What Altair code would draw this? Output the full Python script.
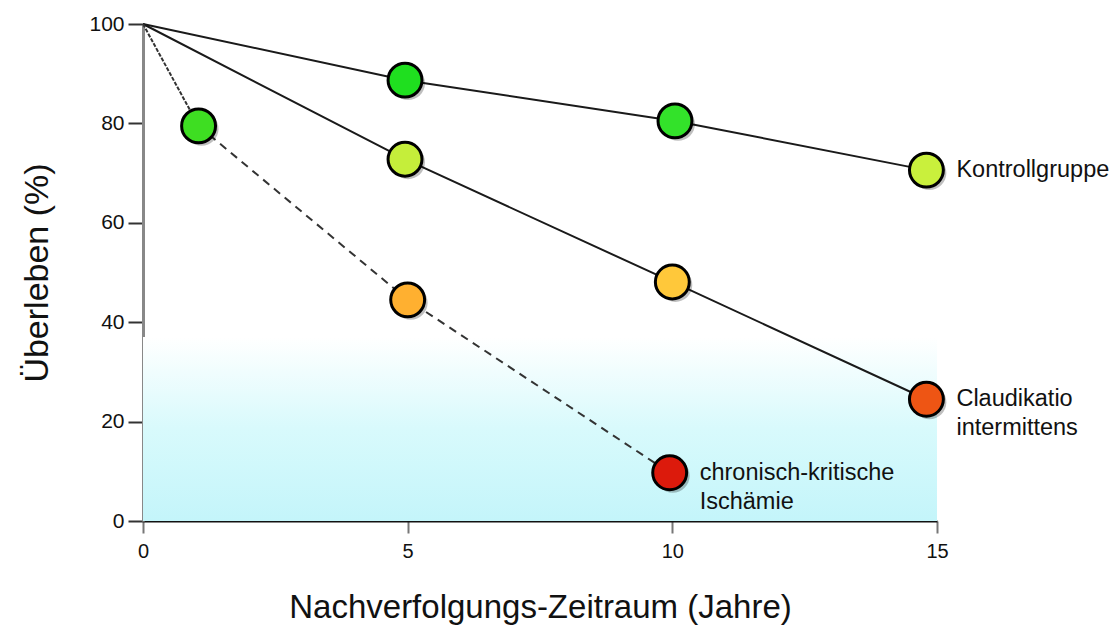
import altair as alt
import pandas as pd

# Data
kontroll_x = [0, 4.95, 10.05, 14.8]
kontroll_y = [100, 88.7, 80.5, 70.6]
kontroll_c = [None, "#1fdf1f", "#33e22a", "#c9f03c"]

claud_x = [0, 4.95, 10.0, 14.8]
claud_y = [100, 72.8, 48.1, 24.5]
claud_c = [None, "#c5ee3a", "#ffc83a", "#ee5514"]

chron_x = [0, 1.05, 5.0, 9.95]
chron_y = [100, 79.5, 44.5, 9.7]
chron_c = [None, "#3ede22", "#ffb030", "#dc1a0c"]

labels = ["Kontrollgruppe", "Claudikatio\nintermittens", "chronisch-kritische\nIschämie"]

FONT = "Liberation Sans"

x_scale = alt.Scale(domain=[0, 15], nice=False, zero=False)
y_scale = alt.Scale(domain=[0, 100], nice=False)

# line data
rows = []
for gi, (xs, ys) in enumerate([(kontroll_x, kontroll_y), (claud_x, claud_y)]):
    for i, (x, y) in enumerate(zip(xs, ys)):
        rows.append({"g": f"g{gi}", "x": x, "y": y, "o": i})
lines_df = pd.DataFrame(rows)

chron_solid = pd.DataFrame({"x": chron_x[:2], "y": chron_y[:2], "o": [0, 1]})
chron_dash = pd.DataFrame({"x": chron_x[1:], "y": chron_y[1:], "o": [0, 1, 2]})

pts = []
for xs, ys, cs in [(kontroll_x, kontroll_y, kontroll_c), (claud_x, claud_y, claud_c), (chron_x, chron_y, chron_c)]:
    for x, y, c in zip(xs[1:], ys[1:], cs[1:]):
        pts.append({"x": x, "y": y, "c": c})
pts_df = pd.DataFrame(pts)

lab_df = pd.DataFrame({
    "x": [kontroll_x[-1], claud_x[-1], chron_x[-1]],
    "y": [kontroll_y[-1], claud_y[-1], chron_y[-1]],
    "t": labels,
})

bg_df = pd.DataFrame({"x": [0], "x2": [15], "y": [0], "y2": [37]})

X = lambda: alt.X("x:Q", scale=x_scale,
                  axis=alt.Axis(values=[0, 5, 10, 15], title="Nachverfolgungs-Zeitraum (Jahre)",
                                grid=False, domainColor="#111", domainWidth=2,
                                tickColor="#777", tickWidth=2, tickSize=12, labelFlush=False,
                                labelFont=FONT, labelFontSize=20, labelColor="#111", labelPadding=8,
                                titleFont=FONT, titleFontSize=33, titleFontWeight="normal",
                                titleColor="#111", titlePadding=30))
Y = lambda: alt.Y("y:Q", scale=y_scale,
                  axis=alt.Axis(values=[0, 20, 40, 60, 80, 100], title="Überleben (%)",
                                grid=False, domainColor="#888", domainWidth=3,
                                tickColor="#333", tickWidth=2, tickSize=15, labelFlush=False,
                                labelFont=FONT, labelFontSize=21, labelColor="#111", labelPadding=4,
                                titleFont=FONT, titleFontSize=34, titleFontWeight="normal",
                                titleColor="#111", titlePadding=34))

bg = alt.Chart(bg_df).mark_rect(
    fill=alt.Gradient(gradient="linear", x1=0, y1=0, x2=0, y2=1,
                      stops=[alt.GradientStop(offset=0, color="#ffffff"),
                             alt.GradientStop(offset=0.5, color="#d8fafc"),
                             alt.GradientStop(offset=1, color="#c4f5fa")])
).encode(x=X(), x2="x2:Q", y=Y(), y2="y2:Q")

lines = alt.Chart(lines_df).mark_line(color="#1a1a1a", strokeWidth=2).encode(
    x=X(), y=Y(), detail="g:N", order="o:Q")

ch1 = alt.Chart(chron_solid).mark_line(color="#333", strokeWidth=2, strokeDash=[4, 1.5]).encode(
    x=X(), y=Y(), order="o:Q")
ch2 = alt.Chart(chron_dash).mark_line(color="#333", strokeWidth=2, strokeDash=[8, 6]).encode(
    x=X(), y=Y(), order="o:Q")

shadow = alt.Chart(pts_df).mark_point(filled=True, shape="circle", size=1150, color="#000", opacity=0.25).encode(
    x=X(), y=Y(), xOffset=alt.value(3), yOffset=alt.value(3))

points = alt.Chart(pts_df).mark_point(filled=True, shape="circle", size=1150, stroke="#000",
                                      strokeWidth=3, opacity=1).encode(
    x=X(), y=Y(), fill=alt.Fill("c:N", scale=None))

text = alt.Chart(lab_df).mark_text(align="left", baseline="middle", dx=30, font=FONT, fontSize=23.5,
                                   color="#111", lineBreak="\n", lineHeight=29).encode(
    x=X(), y=Y(), text="t:N")

chart = alt.layer(bg, lines, ch1, ch2, shadow, points, text).properties(
    width=794, height=497,
    autosize=alt.AutoSizeParams(type="none"),
    padding={"left": 135, "top": 16, "right": 172, "bottom": 110},
).configure_view(stroke=None)

chart.save("out.html", embed_options={"renderer": "svg", "actions": False})
